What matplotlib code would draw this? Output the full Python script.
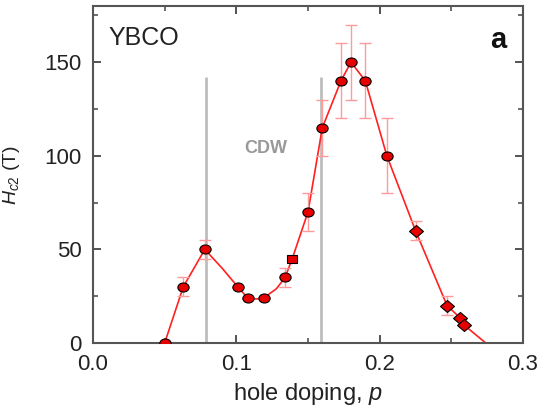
import numpy as np
import matplotlib.pyplot as plt
from matplotlib.markers import MarkerStyle
from matplotlib.transforms import Affine2D

plt.rcParams['font.family'] = ['Liberation Sans', 'DejaVu Sans']
plt.rcParams['mathtext.fontset'] = 'custom'
plt.rcParams['mathtext.rm'] = 'Liberation Sans'
plt.rcParams['mathtext.it'] = 'Liberation Sans:italic'

# data
p_circ = [0.050, 0.063, 0.078, 0.101, 0.108, 0.119, 0.134, 0.150, 0.160, 0.173, 0.180, 0.190, 0.205]
h_circ = [0, 30, 50, 30, 24, 24, 35, 70, 115, 140, 150, 140, 100]
e_circ = [0, 5, 5, 0, 0, 0, 5, 10, 15, 20, 20, 20, 20]

p_sq = [0.139]
h_sq = [45]

p_dia = [0.225, 0.247, 0.256, 0.259]
h_dia = [60, 20, 13.5, 9.5]
e_dia = [5, 5, 0, 0]

# guide curve nodes
p_curve = [0.050, 0.063, 0.078, 0.090, 0.101, 0.108, 0.114, 0.119, 0.128, 0.134, 0.139, 0.150,
           0.160, 0.173, 0.180, 0.190, 0.205, 0.225, 0.247, 0.256, 0.259, 0.274]
h_curve = [0, 30, 50, 40, 30, 24, 23.5, 24, 29, 35, 45, 70,
           115, 140, 150, 140, 100, 60, 20, 13.5, 9.5, 0]

cdw_lines = [0.079, 0.159]

red = '#e60000'
wide = Affine2D().scale(1.25, 1.0)
m_circ = MarkerStyle('o', transform=wide)
m_sq = MarkerStyle('s', transform=wide)
m_dia = MarkerStyle('D', transform=wide)

fig = plt.figure(figsize=(5.48, 4.12), dpi=100)
ax = fig.add_axes([0.1697, 0.1675, 0.7847, 0.8180])

ax.vlines(cdw_lines, 0, 142, color='#bdbdbd', lw=2, zorder=1)
ax.plot(p_curve, h_curve, color='#ff2020', lw=1.2, zorder=2)

ax.errorbar(p_circ, h_circ, yerr=e_circ, fmt='none', ecolor='#ff9a9a', elinewidth=1, capsize=4, capthick=1, zorder=2)
ax.errorbar(p_dia, h_dia, yerr=e_dia, fmt='none', ecolor='#ff9a9a', elinewidth=1, capsize=4, capthick=1, zorder=2)

ax.plot(p_circ, h_circ, linestyle='none', marker=m_circ, ms=6.5, mfc=red, mec='black', mew=0.8, zorder=3)
ax.plot(p_sq, h_sq, linestyle='none', marker=m_sq, ms=6, mfc=red, mec='black', mew=0.8, zorder=3)
ax.plot(p_dia, h_dia, linestyle='none', marker=m_dia, ms=6, mfc=red, mec='black', mew=0.8, zorder=3)

ax.set_xlim(0, 0.3)
ax.set_ylim(0, 180)
ax.set_xticks([0, 0.1, 0.2, 0.3])
ax.set_xticklabels(['0.0', '0.1', '0.2', '0.3'])
ax.set_xticks([0.05, 0.15, 0.25], minor=True)
ax.set_yticks([0, 50, 100, 150])
ax.set_yticks([25, 75, 125, 175], minor=True)
ax.tick_params(which='both', direction='in', top=True, right=True, labelsize=16,
               color='#444444', labelcolor='#222222')
ax.tick_params(which='major', length=6, width=1.3, pad=8)
ax.tick_params(which='minor', length=3.5, width=1.1)
for s in ax.spines.values():
    s.set_color('#555555')
    s.set_linewidth(1.5)

ax.set_xlabel('hole doping, $p$', fontsize=17, color='#222222', labelpad=4)
ax.set_ylabel('$H_{c2}$ (T)', fontsize=14, color='#222222', va='center')
ax.yaxis.set_label_coords(-0.19, 0.5)

ax.text(0.011, 163, 'YBCO', fontsize=18, color='#222222', va='center')
ax.text(0.2885, 162, 'a', fontsize=21, fontweight='bold', color='#111111', ha='right', va='center')
ax.text(0.1205, 104, 'CDW', fontsize=13, fontweight='bold', color='#999999', ha='center', va='center')

fig.savefig('out.png', dpi=100)
